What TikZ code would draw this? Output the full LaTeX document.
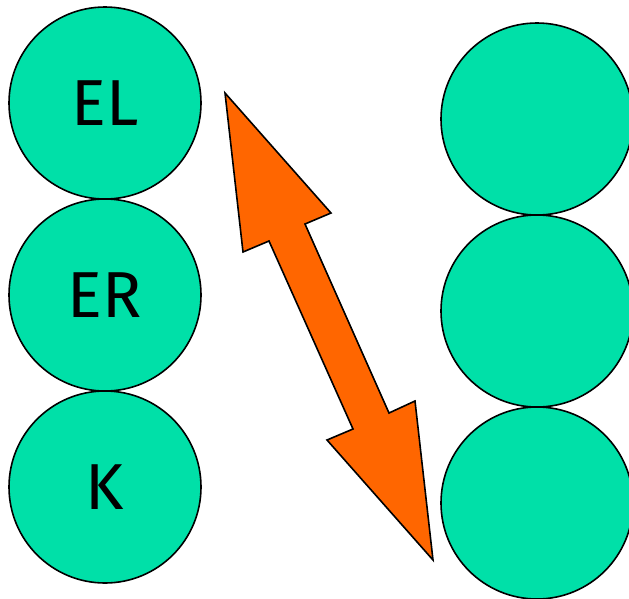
\documentclass[tikz,border=0pt]{standalone}
\usepackage{fontspec}
\setsansfont{Fira Sans}
\definecolor{teal1}{HTML}{00E0A8}
\definecolor{orng}{HTML}{FF6600}
\begin{document}
\begin{tikzpicture}[x=1pt,y=-1pt,
  ball/.style={circle,draw=black,line width=1.6pt,fill=teal1,minimum size=192pt,inner sep=0pt,font=\sffamily\fontsize{65}{65}\selectfont},
  arr/.style={draw=black,line width=1.6pt,fill=orng,line join=miter}]
\useasboundingbox (0,0) rectangle (629,598);
\node[ball] (l1) at (105,103) {\raisebox{-3pt}{EL}};
\node[ball] (l2) at (105,295) {\raisebox{-3pt}{ER}};
\node[ball] (l3) at (105,487) {\raisebox{-3pt}{K}};
\node[ball] (r1) at (537,119) {};
\node[ball] (r2) at (537,311) {};
\node[ball] (r3) at (537,503) {};
\draw[arr] (225,93) -- (331,213) -- (305,224) -- (389,413) -- (415,401) -- (433,560)
  -- (327,440) -- (353,429) -- (269,241) -- (243,252) -- cycle;
\end{tikzpicture}
\end{document}
